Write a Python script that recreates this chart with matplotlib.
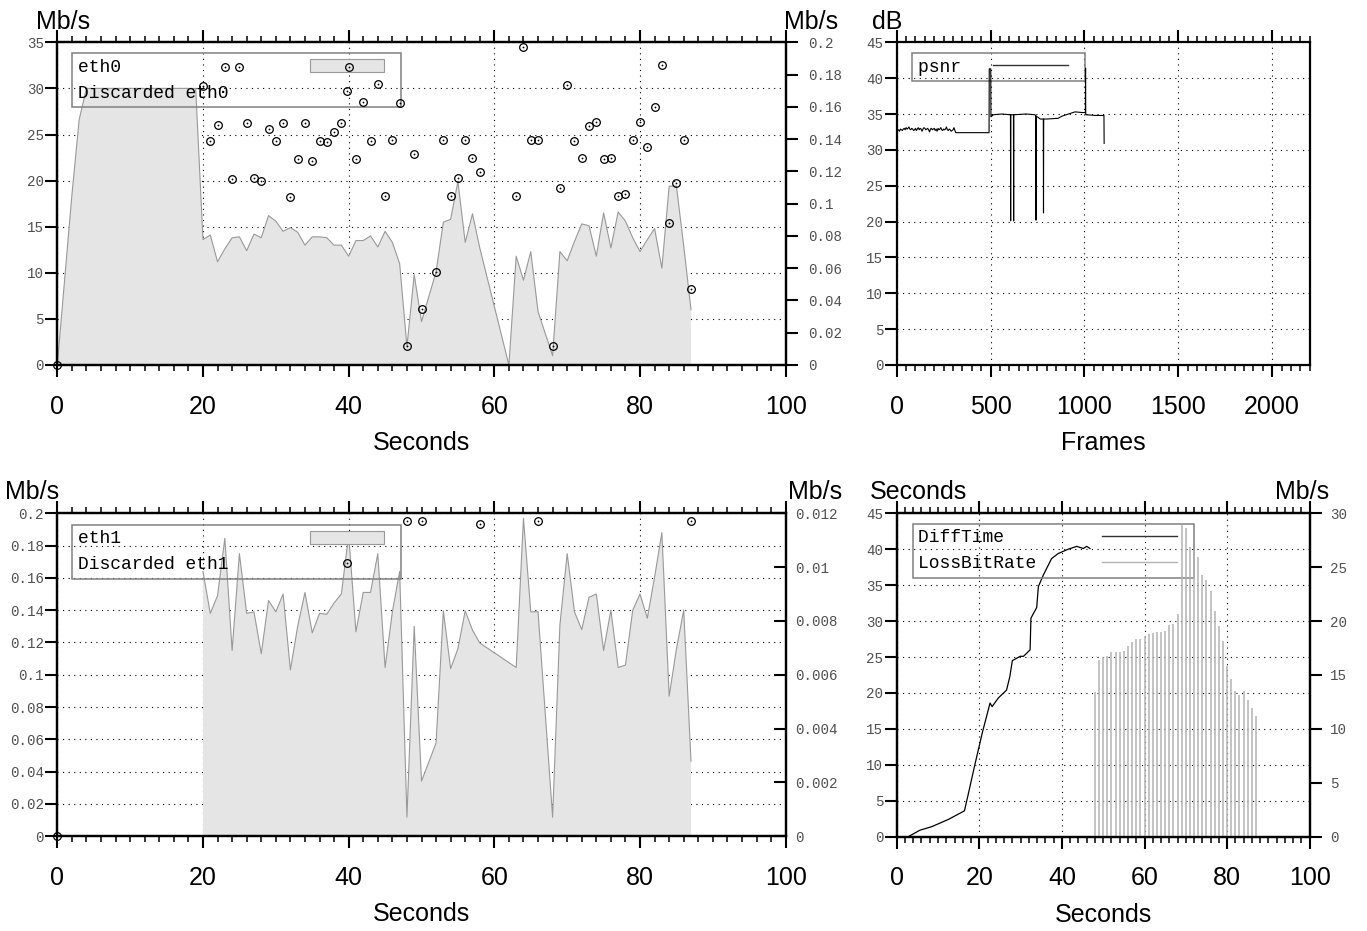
import numpy as np
import matplotlib
matplotlib.use("Agg")
import matplotlib.pyplot as plt
from matplotlib.patches import Patch, Rectangle
from matplotlib.lines import Line2D
from matplotlib.legend_handler import HandlerBase
from matplotlib.ticker import MultipleLocator

############################  DATA  ############################
# eth0 throughput (left axis, Mb/s)
eth0_sec = list(range(0, 51)) + list(range(52, 59)) + list(range(62, 67)) + list(range(68, 88))
eth0_mbps = ([0.0, 9.2, 18.4, 26.6] + [30.0] * 16 +
             [13.6, 14.1, 11.2, 12.6, 13.8, 13.9, 12.4, 14.2, 13.8, 16.2, 15.6, 14.5, 14.9, 14.4, 13.0, 13.9,
              13.9, 13.8, 13.0, 13.0, 11.8, 13.5, 13.5, 14.0, 12.8, 14.5, 13.3, 11.0, 2.0, 9.8, 4.7] +
             [10.1, 15.5, 15.8, 19.9, 13.3, 16.4, 12.7] +
             [0.0, 11.8, 9.2, 12.3, 5.8] +
             [1.0, 12.3, 11.3, 13.4, 15.3, 15.1, 11.8, 16.5, 12.7, 16.6, 15.6, 13.8, 12.3, 13.6, 14.8, 10.5,
              19.4, 19.4, 12.9, 6.0])
# discarded on eth0 (right axis, Mb/s)
disc0_sec = [0] + list(range(20, 51)) + list(range(52, 59)) + list(range(63, 67)) + list(range(68, 88))
disc0_mbps = ([0.0] +
              [0.173, 0.139, 0.149, 0.1845, 0.115, 0.1847, 0.150, 0.116, 0.114, 0.146, 0.139, 0.150, 0.104,
               0.1275, 0.150, 0.1265, 0.139, 0.138, 0.1447, 0.150, 0.1847, 0.1277, 0.1628, 0.139, 0.1744,
               0.1046, 0.1397, 0.1626, 0.0118, 0.1306, 0.0347] +
              [0.0578, 0.1393, 0.1046, 0.1162, 0.1393, 0.1281, 0.1199] +
              [0.1046, 0.197, 0.1393, 0.1393] +
              [0.0118, 0.1097, 0.1735, 0.139, 0.1281, 0.148, 0.1508, 0.1275, 0.1281, 0.1046, 0.106, 0.1397,
               0.1506, 0.1351, 0.1597, 0.1859, 0.0883, 0.1125, 0.1393, 0.0469])

# eth1 throughput (left axis) and discarded (right axis)
eth1_sec = list(range(20, 51)) + list(range(52, 59)) + list(range(63, 67)) + list(range(68, 88))
eth1_mbps = ([0.164, 0.138, 0.149, 0.1845, 0.115, 0.175, 0.138, 0.139, 0.113, 0.146, 0.139, 0.150, 0.103,
              0.130, 0.151, 0.126, 0.138, 0.1375, 0.1445, 0.150, 0.1865, 0.1266, 0.151, 0.151, 0.175,
              0.1045, 0.139, 0.164, 0.0118, 0.130, 0.0341] +
             [0.0577, 0.1396, 0.1038, 0.1162, 0.1396, 0.1276, 0.1197] +
             [0.1045, 0.1969, 0.139, 0.139] +
             [0.0118, 0.1307, 0.175, 0.139, 0.128, 0.148, 0.150, 0.115, 0.140, 0.1045, 0.106, 0.140,
              0.150, 0.135, 0.1605, 0.188, 0.0867, 0.116, 0.140, 0.0465])
disc1_sec = [0, 48, 50, 58, 66, 87]
disc1_mbps = [0.0, 0.0117, 0.0117, 0.0116, 0.0117, 0.0117]

# psnr per frame
psnr_frame = list(range(0, 331, 5)) + [340, 492, 493, 501, 502, 515, 560, 606, 607, 608, 622, 623, 624,
                                       690, 735, 741, 742, 743, 755, 765, 781, 782, 783, 800, 860, 880,
                                       950, 990, 1005, 1006, 1007, 1060, 1104, 1105]
psnr_db = ([32.8, 32.7, 32.8, 32.6, 32.9, 32.8, 32.7, 32.9, 33.0, 32.8,
            33.1, 32.9, 33.0, 33.2, 32.9, 32.8, 33.0, 32.9, 32.7, 32.8,
            33.0, 32.7, 32.9, 33.1, 32.8, 33.0, 32.9, 32.6, 32.9, 33.1,
            33.0, 32.8, 32.9, 33.0, 32.8, 32.5, 32.9, 33.0, 32.8, 32.9,
            33.0, 32.7, 32.9, 32.6, 33.0, 32.8, 32.9, 33.1, 32.8, 32.7,
            32.9, 32.8, 32.9, 33.2, 32.8, 32.7, 32.9, 32.8, 32.6, 32.7,
            32.8, 33.1, 32.7, 32.4, 32.4, 32.4, 32.4] +
           [32.4, 32.4, 41.3, 41.3, 34.6, 34.9, 35.0, 34.9, 20.1, 34.9, 34.9, 20.1, 34.9, 35.0, 34.9, 34.8,
            20.2, 34.7, 34.5, 34.3, 34.3, 21.2, 34.3, 34.3, 34.4, 34.7, 35.3, 35.2, 35.2, 41.4, 34.9, 34.8,
            34.8, 30.9])

# DiffTime (left axis, seconds) and LossBitRate (right axis, Mb/s)
diff_sec = [2.8, 5.6, 8.5, 12.5, 16.4, 17.2, 19.0, 20.7, 22.6, 23.1, 24.6, 26.6, 27.4, 28.0, 29.9, 30.7,
            32.3, 32.5, 33.9, 34.3, 35.5, 37.5, 39.1, 41.5, 43.6, 45.2, 46.0, 46.8]
diff_val = [0.0, 0.9, 1.4, 2.4, 3.6, 5.6, 10.2, 14.4, 18.6, 18.1, 19.3, 20.4, 22.3, 24.5, 25.1, 25.1,
            26.0, 30.4, 31.9, 34.8, 36.4, 38.7, 39.4, 40.0, 40.4, 40.1, 40.4, 40.1]
loss_sec = list(range(48, 88))
loss_mbps = [13.4, 16.4, 16.7, 16.8, 17.1, 17.1, 17.1, 17.2, 17.7, 18.1, 18.3, 18.3, 18.6, 18.8, 18.9,
             19.0, 19.0, 19.1, 19.6, 19.7, 20.7, 28.9, 28.6, 26.9, 26.6, 25.9, 24.3, 23.8, 22.8, 20.9,
             19.5, 18.2, 15.8, 14.6, 13.5, 13.1, 13.5, 12.7, 11.9, 11.2]
################################################################

W, H = 1367, 931
MONO = 'Liberation Mono'
SANS = 'Liberation Sans'
FILL = '#e5e5e5'
EDGE = '#999999'
TICKC = '#505050'
IMP = '#b3b3b3'

plt.rcParams['font.family'] = SANS


class KeySample(HandlerBase):
    # gnuplot style key sample, only the left part of the handle box
    def create_artists(self, legend, orig, xd, yd, width, height, fontsize, trans):
        w = width * 0.865
        x0, y0 = -xd, -yd
        if isinstance(orig, Patch):
            return [Rectangle((x0, y0), w, height, facecolor=orig.get_facecolor(),
                              edgecolor=orig.get_edgecolor(), linewidth=orig.get_linewidth(),
                              transform=trans)]
        if orig.get_marker() not in (None, 'None', ''):
            xm, ym = x0 + w / 2, y0 + height / 2
            ring = Line2D([xm], [ym], ls='none', marker='o', ms=orig.get_markersize(), mfc='none',
                          mec='black', mew=orig.get_markeredgewidth(), transform=trans)
            dot = Line2D([xm], [ym], ls='none', marker='o', ms=1.3, mfc='black', mec='none',
                         transform=trans)
            return [ring, dot]
        return [Line2D([x0, x0 + w], [y0 + height / 2] * 2, color=orig.get_color(),
                       lw=orig.get_linewidth(), transform=trans)]


def panel(rect, xmax, xmajor, xminor, ymax, ystep, xlabel):
    l, t, r, b = rect
    ax = fig.add_axes([l / W, 1 - b / H, (r - l) / W, (b - t) / H])
    ax.set_xlim(0, xmax)
    ax.set_ylim(0, ymax)
    xt = np.arange(0, xmax + 1e-9, xmajor)
    ax.set_xticks(xt, labels=['%g' % v for v in xt], fontfamily=SANS, fontsize=18)
    ax.xaxis.set_minor_locator(MultipleLocator(xminor))
    yt = np.arange(0, ymax + 1e-9, ystep)
    ax.set_yticks(yt, labels=['%g' % round(v, 6) for v in yt], fontfamily=MONO, fontsize=10.2,
                  color=TICKC)
    ax.tick_params(axis='x', which='both', direction='out', top=True, bottom=True)
    ax.tick_params(axis='x', which='major', length=8.3, width=1.5, pad=13)
    ax.tick_params(axis='x', which='minor', length=4.3, width=1.1)
    ax.tick_params(axis='y', which='major', direction='out', length=8.6, width=1.5, pad=1)
    for s in ax.spines.values():
        s.set_linewidth(1.6)
    ax.set_axisbelow(True)
    ax.grid(True, color='black', linestyle=(0, (1, 4)), linewidth=0.8)
    ax.set_xlabel(xlabel, fontfamily=SANS, fontsize=18, labelpad=8.8)
    return ax


def twin(ax, ymax, ystep, direction, pad):
    ax2 = ax.twinx()
    ax2.set_ylim(0, ymax)
    yt = np.arange(0, ymax + 1e-9, ystep)
    ax2.set_yticks(yt, labels=['%g' % round(v, 6) for v in yt], fontfamily=MONO, fontsize=10.2,
                   color=TICKC)
    ax2.tick_params(axis='y', which='major', direction=direction, length=8.6, width=1.5, pad=pad)
    for s in ax2.spines.values():
        s.set_linewidth(1.6)
    return ax2


def corner(ax, text, xf, dx, dy):
    ax.annotate(text, xy=(xf, 1), xycoords='axes fraction', xytext=(dx * 0.72, dy * 0.72),
                textcoords='offset points', ha='center', va='baseline', fontfamily=SANS,
                fontsize=18, annotation_clip=False)


def key(ax, handles, labels, anchor, textpad):
    leg = ax.legend(handles, labels, loc='upper left', bbox_to_anchor=anchor, borderaxespad=0,
                    borderpad=0.3, labelspacing=0.5, handlelength=4.8, handleheight=0.74,
                    handletextpad=textpad, markerfirst=False, fancybox=False, framealpha=1,
                    prop={'family': MONO, 'size': 12.95},
                    handler_map={Patch: KeySample(), Line2D: KeySample()})
    fr = leg.get_frame()
    fr.set_facecolor('none')
    fr.set_edgecolor('#808080')
    fr.set_linewidth(1.1)
    leg.set_zorder(1.5)


def circles(ax, x, y):
    ax.plot(x, y, ls='none', marker='o', ms=5.5, mfc='none', mec='black', mew=0.9, clip_on=False)
    ax.plot(x, y, ls='none', marker='o', ms=1.3, mfc='black', mec='none', clip_on=False)


ring_key = Line2D([], [], ls='none', marker='o', ms=5.5, mfc='none', mec='black', mew=0.9)

fig = plt.figure(figsize=(W / 100, H / 100), dpi=100)

# ---------- top left: eth0 ----------
ax = panel((57.3, 42.3, 785.7, 365.0), 100, 20, 2, 35, 5, 'Seconds')
ax.fill_between(eth0_sec, 0, eth0_mbps, facecolor=FILL, edgecolor='none', lw=0)
ax.plot(eth0_sec, eth0_mbps, color=EDGE, lw=0.8)
ax2 = twin(ax, 0.2, 0.02, 'out', 7.4)
circles(ax2, disc0_sec, disc0_mbps)
key(ax2, [Patch(facecolor=FILL, edgecolor=EDGE, lw=0.8), ring_key],
    ['eth0           ', 'Discarded eth0 '], (0.0206, 0.9659), 3.93)
corner(ax, 'Mb/s', 0, 5.7, 13)
corner(ax, 'Mb/s', 1, 25.6, 13)

# ---------- top right: psnr ----------
ax = panel((896.7, 42.3, 1309.7, 365.0), 2200, 500, 50, 45, 5, 'Frames')
ax.plot(psnr_frame, psnr_db, color='black', lw=0.8)
key(ax, [Line2D([], [], color='#333333', lw=1.0)], ['psnr '], (0.0378, 0.9659), 1.21)
corner(ax, 'dB', 0, -9.7, 13.5)

# ---------- bottom left: eth1 ----------
ax = panel((57.3, 513.3, 785.7, 836.2), 100, 20, 2, 0.2, 0.02, 'Seconds')
ax.fill_between(eth1_sec, 0, eth1_mbps, facecolor=FILL, edgecolor='none', lw=0)
ax.plot(eth1_sec, eth1_mbps, color=EDGE, lw=0.8)
ax2 = twin(ax, 0.012, 0.002, 'in', 7.0)
circles(ax2, disc1_sec, disc1_mbps)
key(ax2, [Patch(facecolor=FILL, edgecolor=EDGE, lw=0.8), ring_key],
    ['eth1           ', 'Discarded eth1 '], (0.0206, 0.9638), 3.93)
corner(ax, 'Mb/s', 0, -25, 14)
corner(ax, 'Mb/s', 1, 29.3, 14)

# ---------- bottom right: DiffTime / LossBitRate ----------
ax = panel((896.7, 513.3, 1309.7, 836.7), 100, 20, 2, 45, 5, 'Seconds')
ax.plot(diff_sec, diff_val, color='black', lw=0.9)
ax2 = twin(ax, 30, 5, 'out', 6.0)
ax2.vlines(loss_sec, 0, loss_mbps, color=IMP, lw=1.1)
key(ax2, [Line2D([], [], color='#333333', lw=1.0), Line2D([], [], color=IMP, lw=1.0)],
    ['DiffTime    ', 'LossBitRate '], (0.0387, 0.9669), 3.07)
corner(ax, 'Seconds', 0, 22, 14)
corner(ax, 'Mb/s', 1, -7.2, 14)

fig.savefig('out.png', dpi=100)
